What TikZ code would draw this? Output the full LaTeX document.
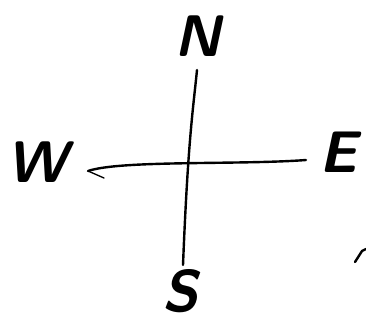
\documentclass[tikz,border=0pt]{standalone}
\begin{document}
\begin{tikzpicture}[x=0.75pt, y=-0.75pt, line width=1.8pt, line cap=round,
  every node/.style={font=\fontsize{44}{44}\selectfont\sffamily\itshape\bfseries, inner sep=0pt}]
	% 0. 画布
	\useasboundingbox (0,0) rectangle (366,322);
	
	% 1. 方位字母
	\node (n) at (198, 36) {N};
	\node (s) at (180, 291) {S};
	\node (e) at (338, 152) {E};
	\node (w) at (37, 162) {W};
	
	% 2. 线端
	\coordinate (ntip) at (197, 70);
	\coordinate (stip) at (183, 265);
	\coordinate (etip) at (306, 160);
	\coordinate (wtip) at (88, 171);
	
	% 3. 十字
	\draw (ntip) .. controls (193, 110) and (188, 140) .. (stip);
	\draw (wtip) .. controls (120, 160) and (240, 165) .. (etip);
	\draw[line width=1pt] (wtip) -- (104, 178);
	
	% 4. 右下角残笔
	\draw (355, 262) -- (362, 251) -- (366, 249);
\end{tikzpicture}
\end{document}
